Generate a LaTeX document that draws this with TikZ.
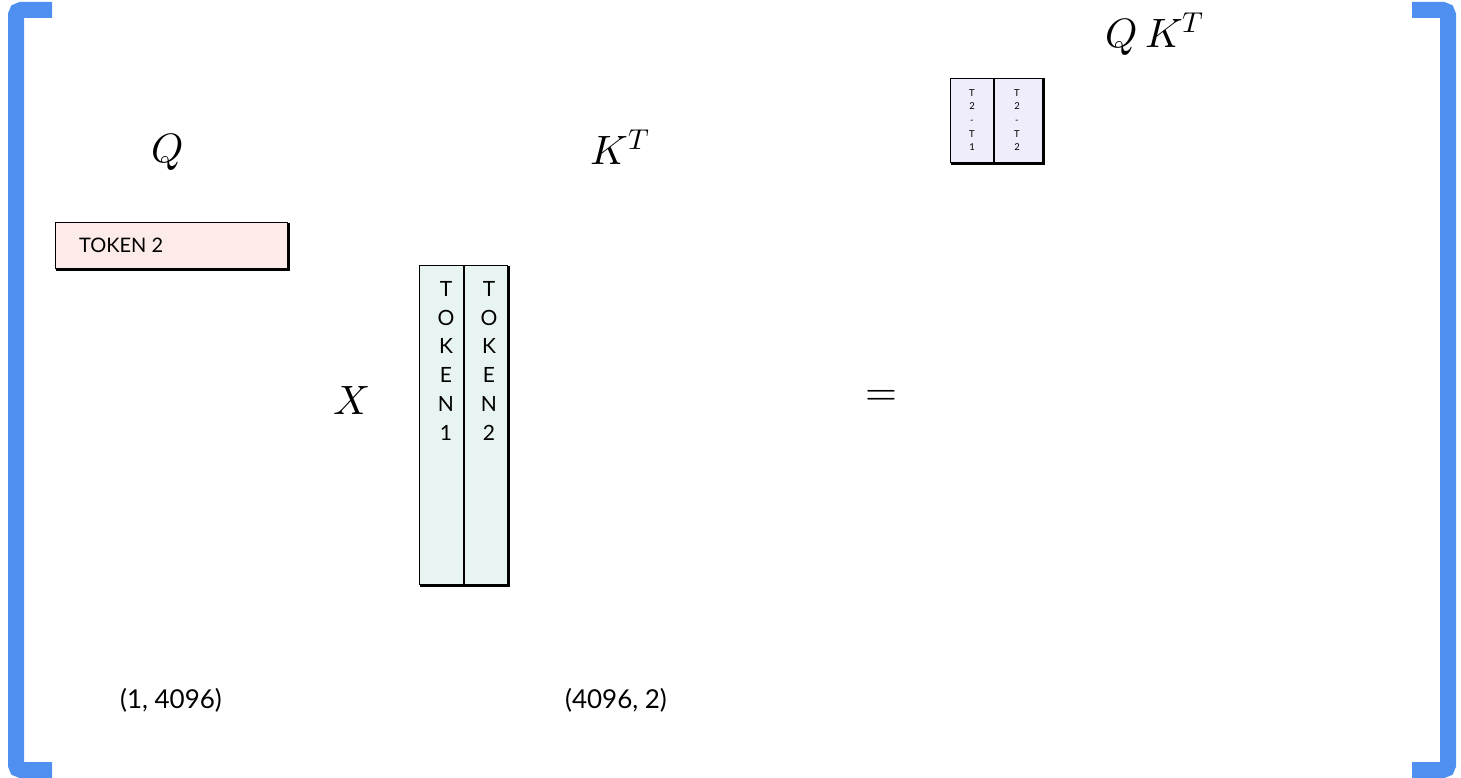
\documentclass[tikz,border=0pt]{standalone}
\usepackage{fontspec}
\usepackage{unicode-math}
\setmathfont{Latin Modern Math}
\setsansfont{Lato}
\definecolor{bracketblue}{RGB}{79,143,240}
\definecolor{pinkfill}{RGB}{252,235,232}
\definecolor{tealfill}{RGB}{232,244,241}
\definecolor{lavfill}{RGB}{239,237,251}
\tikzset{
  x=1pt, y=-1pt,
  bracket/.style={draw=bracketblue, line width=16pt, rounded corners=5pt},
  cellbox/.style={draw=black, line width=1.3pt, inner sep=0pt, anchor=north west},
  shadowline/.style={draw=black, line width=2.4pt},
  colletters/.style={font=\sffamily\fontsize{21}{28.8}\selectfont, align=center, anchor=north, inner sep=0pt},
  tinyletters/.style={font=\sffamily\fontsize{9.5}{13.7}\selectfont, align=center, anchor=north, inner sep=0pt},
  mathlabel/.style={font=\fontsize{41}{48}\selectfont, inner sep=0pt},
  dimlabel/.style={font=\sffamily\fontsize{26}{30}\selectfont, inner sep=0pt},
}
\begin{document}
\begin{tikzpicture}
\useasboundingbox (0,0) rectangle (1461,778);
% brackets
\draw[bracket] (52,10) -- (16,10) -- (16,770) -- (52,770);
\draw[bracket] (1412,10) -- (1448,10) -- (1448,770) -- (1412,770);

% Q row
\node[cellbox, fill=pinkfill, minimum width=232pt, minimum height=46pt] (q) at (55,222) {};
\draw[shadowline] ([xshift=0.5pt,yshift=-0.5pt]q.south west) -- ([xshift=0.5pt,yshift=-0.5pt]q.south east) -- ([xshift=0.5pt,yshift=-0.5pt]q.north east);
\node[font=\sffamily\fontsize{20}{24}\selectfont, anchor=west, inner sep=0pt] (qt) at (79,245) {TOKEN 2};

% K^T columns
\node[cellbox, fill=tealfill, minimum width=44pt, minimum height=319pt] (k1) at (419,265) {};
\node[cellbox, fill=tealfill, minimum width=44pt, minimum height=319pt] (k2) at (463,265) {};
\draw[shadowline] ([xshift=0.5pt,yshift=-0.5pt]k1.south west) -- ([xshift=0.5pt,yshift=-0.5pt]k2.south east) -- ([xshift=0.5pt,yshift=-0.5pt]k2.north east);
\draw[draw=black, line width=2pt] (k1.north east) -- (k1.south east);
\node[colletters] (k1t) at (446,281) {T\\O\\K\\E\\N\\1};
\node[colletters] (k2t) at (489,281) {T\\O\\K\\E\\N\\2};

% QK^T result
\node[cellbox, fill=lavfill, minimum width=43pt, minimum height=84pt] (r1) at (950,78) {};
\node[cellbox, fill=lavfill, minimum width=49pt, minimum height=84pt] (r2) at (993,78) {};
\draw[shadowline] ([xshift=0.5pt,yshift=-0.5pt]r1.south west) -- ([xshift=0.5pt,yshift=-0.5pt]r2.south east) -- ([xshift=0.5pt,yshift=-0.5pt]r2.north east);
\draw[draw=black, line width=2pt] (r1.north east) -- (r1.south east);
\node[tinyletters] (r1t) at (972,89) {T\\2\\-\\T\\1};
\node[tinyletters] (r2t) at (1017,89) {T\\2\\-\\T\\2};

% math labels
\node[mathlabel] (lq) at (168,152) {$Q$};
\node[mathlabel] (lk) at (620,147) {$K^T$};
\node[mathlabel] (lx) at (352,400) {$X$};
\node[mathlabel] (leq) at (881,398) {$=$};
\node[mathlabel] (lqk) at (1155,34) {$Q\,K^T$};

% dimensions
\node[dimlabel] (d1) at (171,700) {(1, 4096)};
\node[dimlabel] (d2) at (616,700) {(4096, 2)};
\end{tikzpicture}
\end{document}
